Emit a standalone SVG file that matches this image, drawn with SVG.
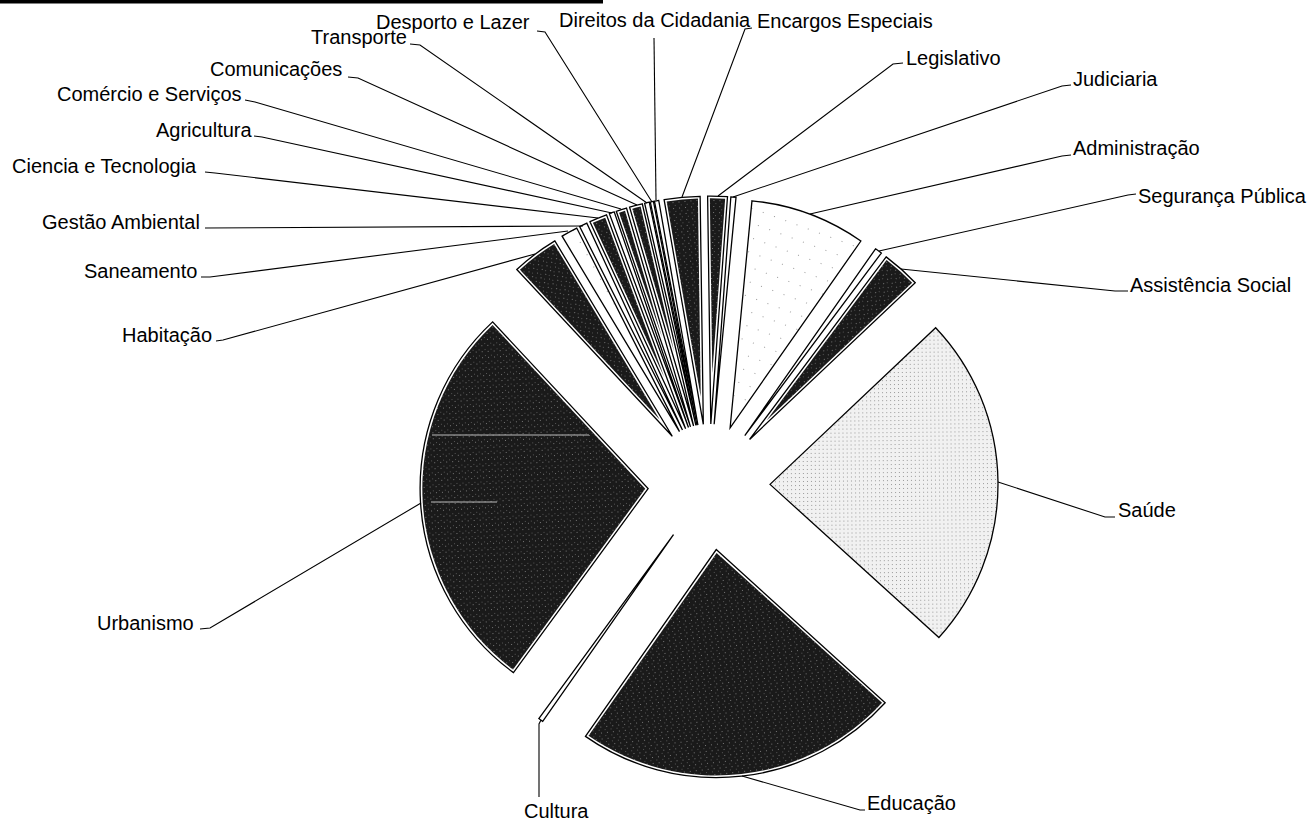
<svg xmlns="http://www.w3.org/2000/svg" width="1309" height="822" viewBox="0 0 1309 822">
<defs>
<style>
.o{stroke:#000;stroke-width:1.3;stroke-linejoin:miter}
.w{fill:#fff}
.dk{fill:url(#pdk)}
.st{fill:url(#pst)}
.sp{fill:url(#psp)}
.ld{fill:none;stroke:#000;stroke-width:1.1}
text{font-family:"Liberation Sans",Arial,sans-serif;font-size:20px;fill:#000}
</style>
<pattern id="pdk" width="6" height="6" patternUnits="userSpaceOnUse"><rect width="6" height="6" fill="#1a1a1a"/><rect x="1" y="2" width="1" height="1" fill="#777"/><rect x="4" y="4" width="1" height="1" fill="#555"/></pattern>
<pattern id="pst" width="4" height="4" patternUnits="userSpaceOnUse"><rect width="4" height="4" fill="#f1f1f1"/><rect x="1" y="1" width="1" height="1" fill="#999"/></pattern>
<pattern id="psp" width="14" height="12" patternUnits="userSpaceOnUse"><rect width="14" height="12" fill="#fff"/><rect x="3" y="4" width="1" height="1" fill="#999"/></pattern>
</defs>
<rect width="1309" height="822" fill="#fff"/>
<g id="top-edge"><rect x="0" y="0" width="603" height="3.5" fill="#000"/></g>

<g id="saude">
<path class="o st" transform="translate(709,485) rotate(-0.6) translate(61,0)" d="M0,0L167.29,-154.91A228,228 0 0 1 167.29,154.91Z"/>
<text x="1118" y="517">Saúde</text>
</g>
<g id="educacao">
<path class="o w" transform="translate(709,485) rotate(83.6) translate(65,0)" d="M0,0L171.03,-150.78A228,228 0 0 1 171.03,150.78Z"/>
<path class="dk" transform="translate(709,485) rotate(83.6) translate(65,0)" d="M3.33,0L170.8,-147.69A225.8,225.8 0 0 1 170.8,147.69Z"/>
<text x="867" y="810">Educação</text>
</g>
<g id="cultura">
<path class="o w" transform="translate(709,485) rotate(125.6) translate(61,0)" d="M0,0L227.99,-2.39A228,228 0 0 1 227.99,2.39Z"/>
<text x="524" y="818">Cultura</text>
</g>
<g id="urbanismo">
<path class="o w" transform="translate(709,485) rotate(176.6) translate(61,0)" d="M0,0L145.33,-175.68A228,228 0 0 1 145.33,175.68Z"/>
<path class="dk" transform="translate(709,485) rotate(176.6) translate(61,0)" d="M2.86,0L145.54,-172.63A225.8,225.8 0 0 1 145.54,172.63Z"/>
<path d="M432,435H589M431,502H497" stroke="#bbb" stroke-width="1"/>
<text x="97" y="630">Urbanismo</text>
</g>
<g id="habitacao">
<path class="o w" transform="translate(709,485) rotate(-127) translate(61,0)" d="M0,0L226.75,-23.83A228,228 0 0 1 226.75,23.83Z"/>
<path class="dk" transform="translate(709,485) rotate(-127) translate(61,0)" d="M21.05,0L224.78,-21.42A225.8,225.8 0 0 1 224.78,21.42Z"/>
<text x="122" y="342">Habitação</text>
</g>
<g id="saneamento">
<path class="o sp" transform="translate(709,485) rotate(-118.9) translate(61,0)" d="M0,0L227.85,-8.36A228,228 0 0 1 227.85,8.36Z"/>
<text x="84" y="278">Saneamento</text>
</g>
<g id="gestao-ambiental">
<path class="o w" transform="translate(709,485) rotate(-115.8) translate(61,0)" d="M0,0L227.97,-3.98A228,228 0 0 1 227.97,3.98Z"/>
<text x="42" y="229">Gestão Ambiental</text>
</g>
<g id="ciencia-tecnologia">
<path class="o w" transform="translate(709,485) rotate(-112.55) translate(61,0)" d="M0,0L227.82,-8.95A228,228 0 0 1 227.82,8.95Z"/>
<path class="dk" transform="translate(709,485) rotate(-112.55) translate(61,0)" d="M56.04,0L225.7,-6.67A225.8,225.8 0 0 1 225.7,6.67Z"/>
<text x="12" y="173">Ciencia e Tecnologia</text>
</g>
<g id="agricultura">
<path class="o w" transform="translate(709,485) rotate(-109.65) translate(61,0)" d="M0,0L227.99,-2.59A228,228 0 0 1 227.99,2.59Z"/>
<text x="156" y="137">Agricultura</text>
</g>
<g id="comercio-servicos">
<path class="o w" transform="translate(709,485) rotate(-107.65) translate(61,0)" d="M0,0L227.94,-5.37A228,228 0 0 1 227.94,5.37Z"/>
<path class="dk" transform="translate(709,485) rotate(-107.65) translate(61,0)" d="M93.4,0L225.78,-3.12A225.8,225.8 0 0 1 225.78,3.12Z"/>
<text x="57" y="101">Comércio e Serviços</text>
</g>
<g id="comunicacoes">
<path class="o w" transform="translate(709,485) rotate(-104.65) translate(61,0)" d="M0,0L227.91,-6.57A228,228 0 0 1 227.91,6.57Z"/>
<path class="dk" transform="translate(709,485) rotate(-104.65) translate(61,0)" d="M76.4,0L225.76,-4.3A225.8,225.8 0 0 1 225.76,4.3Z"/>
<text x="210" y="76">Comunicações</text>
</g>
<g id="transporte">
<path class="o w" transform="translate(709,485) rotate(-102.4) translate(61,0)" d="M0,0L227.99,-2.39A228,228 0 0 1 227.99,2.39Z"/>
<text x="311" y="44">Transporte</text>
</g>
<g id="desporto-lazer">
<path class="o w" transform="translate(709,485) rotate(-101.4) translate(61,0)" d="M0,0L227.99,-1.59A228,228 0 0 1 227.99,1.59Z"/>
<text x="376" y="29">Desporto e Lazer</text>
</g>
<g id="direitos-cidadania">
<path class="o w" transform="translate(709,485) rotate(-100.45) translate(61,0)" d="M0,0L227.99,-2.19A228,228 0 0 1 227.99,2.19Z"/>
<text x="559" y="27">Direitos da Cidadania</text>
</g>
<g id="encargos-especiais">
<path class="o w" transform="translate(709,485) rotate(-95.35) translate(61,0)" d="M0,0L227.28,-18.09A228,228 0 0 1 227.28,18.09Z"/>
<path class="dk" transform="translate(709,485) rotate(-95.35) translate(61,0)" d="M27.73,0L225.25,-15.72A225.8,225.8 0 0 1 225.25,15.72Z"/>
<text x="757" y="28">Encargos Especiais</text>
</g>
<g id="legislativo">
<path class="o w" transform="translate(709,485) rotate(-88.3) translate(61,0)" d="M0,0L227.78,-9.95A228,228 0 0 1 227.78,9.95Z"/>
<path class="dk" transform="translate(709,485) rotate(-88.3) translate(61,0)" d="M50.44,0L225.67,-7.65A225.8,225.8 0 0 1 225.67,7.65Z"/>
<text x="906" y="65">Legislativo</text>
</g>
<g id="judiciaria">
<path class="o w" transform="translate(709,485) rotate(-85.15) translate(61,0)" d="M0,0L227.99,-2.59A228,228 0 0 1 227.99,2.59Z"/>
<text x="1073" y="86">Judiciaria</text>
</g>
<g id="administracao">
<path class="o sp" transform="translate(709,485) rotate(-69.75) translate(61,0)" d="M0,0L220.49,-58.05A228,228 0 0 1 220.49,58.05Z"/>
<text x="1073" y="155">Administração</text>
</g>
<g id="seguranca-publica">
<path class="o w" transform="translate(709,485) rotate(-54.1) translate(61,0)" d="M0,0L227.97,-3.58A228,228 0 0 1 227.97,3.58Z"/>
<text x="1138" y="203">Segurança Pública</text>
</g>
<g id="assistencia-social">
<path class="o w" transform="translate(709,485) rotate(-48.3) translate(61,0)" d="M0,0L227.17,-19.48A228,228 0 0 1 227.17,19.48Z"/>
<path class="dk" transform="translate(709,485) rotate(-48.3) translate(61,0)" d="M25.76,0L225.15,-17.1A225.8,225.8 0 0 1 225.15,17.1Z"/>
<text x="1130" y="292">Assistência Social</text>
</g>

<g id="connectors">
<polyline class="ld" points="998,482 1105,517 1115,517"/>
<polyline class="ld" points="742,776 860,810 865,810"/>
<polyline class="ld" points="541,720 539,724 539,797"/>
<polyline class="ld" points="421,503 210,628 200,629"/>
<polyline class="ld" points="535,254 223,340 216,341"/>
<polyline class="ld" points="568,231 210,277 201,277"/>
<polyline class="ld" points="583,226 205,228"/>
<polyline class="ld" points="598,218 215,173 205,172"/>
<polyline class="ld" points="612,213 262,137 254,136"/>
<polyline class="ld" points="621,209 255,102 245,100"/>
<polyline class="ld" points="637,205 358,78 348,77"/>
<polyline class="ld" points="647,203 420,45 410,44"/>
<polyline class="ld" points="652,202 545,32 537,31"/>
<polyline class="ld" points="656,200 654,38"/>
<polyline class="ld" points="682,197 745,29 752,28"/>
<polyline class="ld" points="718,196 893,64 903,63"/>
<polyline class="ld" points="733,197 1062,86 1071,85"/>
<polyline class="ld" points="810,214 1062,156 1071,155"/>
<polyline class="ld" points="879,251 1128,195 1136,194"/>
<polyline class="ld" points="901,269 1115,291 1128,291"/>
</g>
</svg>
